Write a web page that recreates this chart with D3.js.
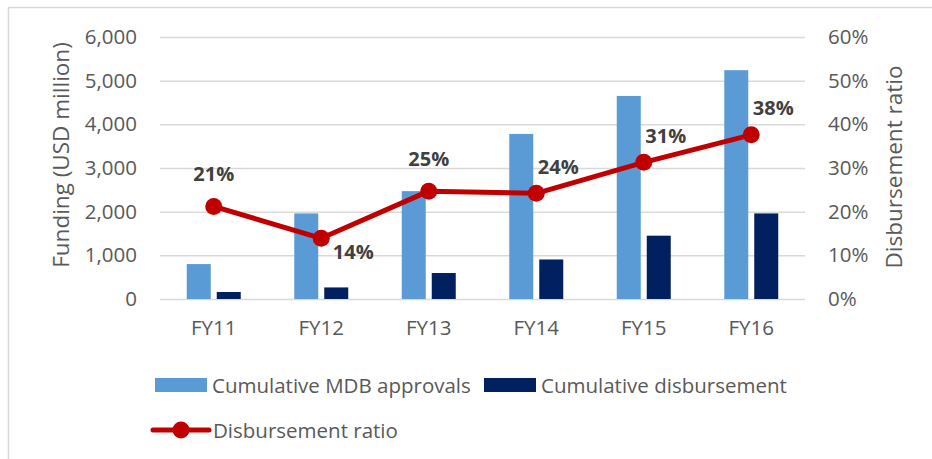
<!DOCTYPE html>
<html>
<head>
<meta charset="utf-8">
<script src="https://cdn.jsdelivr.net/npm/d3@7"></script>
<style>
  body { margin: 0; background: #fff; }
  svg { display: block; font-family: "Open Sans", sans-serif; }
</style>
</head>
<body>
<div id="chart"></div>
<script>
const years = ["FY11", "FY12", "FY13", "FY14", "FY15", "FY16"];
const approvals = [800, 1960, 2470, 3780, 4650, 5240];
const disbursed = [160, 265, 595, 905, 1450, 1960];
const ratio = [0.212, 0.139, 0.247, 0.242, 0.313, 0.376];
const leftTicks = [0, 1000, 2000, 3000, 4000, 5000, 6000];
const rightTicks = [0, 0.1, 0.2, 0.3, 0.4, 0.5, 0.6];

const svgWidth = 932;
const svgHeight = 459;
const margin = { top: 37, right: 127, bottom: 160, left: 160 };
const width = svgWidth - margin.left - margin.right;
const height = svgHeight - margin.top - margin.bottom;

const tickSize = 20.5;
const titleSize = 22.5;

const svg = d3
  .select("#chart")
  .append("svg")
  .attr("width", svgWidth)
  .attr("height", svgHeight);

// outer frame (only top and left edges are visible)
svg
  .append("rect")
  .attr("x", 8.5)
  .attr("y", 7.5)
  .attr("width", svgWidth)
  .attr("height", svgHeight)
  .attr("fill", "none")
  .attr("stroke", "#d9d9d9")
  .attr("stroke-width", 1.5);

const g = svg
  .append("g")
  .attr("transform", "translate(" + margin.left + "," + margin.top + ")");

const x = d3.scaleBand().domain(years).range([0, width]).padding(0);
const xSub = d3
  .scaleBand()
  .domain(["approvals", "disbursed"])
  .range([0, x.bandwidth()])
  .paddingInner(0.2)
  .paddingOuter(0.892);

const yLeft = d3.scaleLinear().domain([0, 6000]).range([height, 0]);
const yRight = d3.scaleLinear().domain([0, 0.6]).range([height, 0]);

// gridlines
g.append("g")
  .call(d3.axisLeft(yLeft).tickValues(leftTicks).tickSize(-width).tickFormat(""))
  .call((ax) => ax.select(".domain").remove())
  .selectAll(".tick line")
  .attr("stroke", "#d9d9d9")
  .attr("stroke-width", 1.5);

// left axis labels
const leftAxis = g
  .append("g")
  .call(d3.axisLeft(yLeft).tickValues(leftTicks).tickSize(0).tickPadding(23).tickFormat(d3.format(",")));
leftAxis.select(".domain").remove();
leftAxis
  .selectAll("text")
  .attr("fill", "#595959")
  .attr("font-size", tickSize)
  .attr("font-family", "Open Sans");

// right axis labels
const rightAxis = g
  .append("g")
  .attr("transform", "translate(" + width + ",0)")
  .call(d3.axisRight(yRight).tickValues(rightTicks).tickSize(0).tickPadding(23).tickFormat(d3.format(".0%")));
rightAxis.select(".domain").remove();
rightAxis
  .selectAll("text")
  .attr("fill", "#595959")
  .attr("font-size", tickSize)
  .attr("font-family", "Open Sans");

// x axis labels
const xAxis = g
  .append("g")
  .attr("transform", "translate(0," + height + ")")
  .call(d3.axisBottom(x).tickSize(0).tickPadding(21));
xAxis.select(".domain").remove();
xAxis
  .selectAll("text")
  .attr("fill", "#595959")
  .attr("font-size", tickSize)
  .attr("font-family", "Open Sans");

// axis titles
g.append("text")
  .attr("transform", "translate(" + (60 - margin.left) + "," + (155 - margin.top) + ") rotate(-90)")
  .attr("text-anchor", "middle")
  .attr("dominant-baseline", "central")
  .attr("fill", "#595959")
  .attr("font-size", titleSize)
  .text("Funding (USD million)");

g.append("text")
  .attr("transform", "translate(" + (893 - margin.left) + "," + (167 - margin.top) + ") rotate(-90)")
  .attr("text-anchor", "middle")
  .attr("dominant-baseline", "central")
  .attr("fill", "#595959")
  .attr("font-size", titleSize)
  .text("Disbursement ratio");

// bars
const barData = years.map((year, i) => ({
  year,
  approvals: approvals[i],
  disbursed: disbursed[i],
}));

const colors = { approvals: "#5b9bd5", disbursed: "#002060" };

const groups = g
  .selectAll("g.year")
  .data(barData)
  .enter()
  .append("g")
  .attr("class", "year")
  .attr("transform", (d) => "translate(" + x(d.year) + ",0)");

groups
  .selectAll("rect")
  .data((d) => ["approvals", "disbursed"].map((key) => ({ key, value: d[key] })))
  .enter()
  .append("rect")
  .attr("x", (d) => xSub(d.key))
  .attr("width", xSub.bandwidth())
  .attr("y", (d) => yLeft(d.value))
  .attr("height", (d) => height - yLeft(d.value))
  .attr("fill", (d) => colors[d.key]);

// ratio line
const lineData = years.map((year, i) => ({ year, value: ratio[i] }));
const cx = (d) => x(d.year) + x.bandwidth() / 2;

const line = d3
  .line()
  .x(cx)
  .y((d) => yRight(d.value));

g.append("path")
  .datum(lineData)
  .attr("fill", "none")
  .attr("stroke", "#c00000")
  .attr("stroke-width", 5)
  .attr("stroke-linejoin", "round")
  .attr("d", line);

g.selectAll("circle.pt")
  .data(lineData)
  .enter()
  .append("circle")
  .attr("class", "pt")
  .attr("cx", cx)
  .attr("cy", (d) => yRight(d.value))
  .attr("r", 8.5)
  .attr("fill", "#c00000");

// data labels: "above", "below-right" or "above-right" of the point
const placement = ["above", "belowRight", "above", "aboveRight", "aboveRight", "aboveRight"];
const offsets = {
  above: [0, -33],
  belowRight: [32, 13],
  aboveRight: [22, -27],
};

g.selectAll("text.ratio")
  .data(lineData)
  .enter()
  .append("text")
  .attr("class", "ratio")
  .attr("x", (d, i) => cx(d) + offsets[placement[i]][0])
  .attr("y", (d, i) => yRight(d.value) + offsets[placement[i]][1])
  .attr("text-anchor", "middle")
  .attr("dominant-baseline", "central")
  .attr("fill", "#404040")
  .attr("font-size", 20)
  .attr("font-weight", "bold")
  .text((d) => d3.format(".0%")(d.value));

// legend
const legend = svg.append("g");

const barLegend = [
  { label: "Cumulative MDB approvals", color: colors.approvals, x: 155 },
  { label: "Cumulative disbursement", color: colors.disbursed, x: 484 },
];

barLegend.forEach((item) => {
  legend
    .append("rect")
    .attr("x", item.x)
    .attr("y", 378)
    .attr("width", 52)
    .attr("height", 14)
    .attr("fill", item.color);
  legend
    .append("text")
    .attr("x", item.x + 57)
    .attr("y", 385)
    .attr("dominant-baseline", "central")
    .attr("fill", "#595959")
    .attr("font-size", tickSize)
    .text(item.label);
});

legend
  .append("line")
  .attr("x1", 153)
  .attr("x2", 209)
  .attr("y1", 430)
  .attr("y2", 430)
  .attr("stroke", "#c00000")
  .attr("stroke-width", 5)
  .attr("stroke-linecap", "round");
legend
  .append("circle")
  .attr("cx", 181)
  .attr("cy", 430)
  .attr("r", 8.5)
  .attr("fill", "#c00000");
legend
  .append("text")
  .attr("x", 213)
  .attr("y", 430)
  .attr("dominant-baseline", "central")
  .attr("fill", "#595959")
  .attr("font-size", tickSize)
  .text("Disbursement ratio");
</script>
</body>
</html>
